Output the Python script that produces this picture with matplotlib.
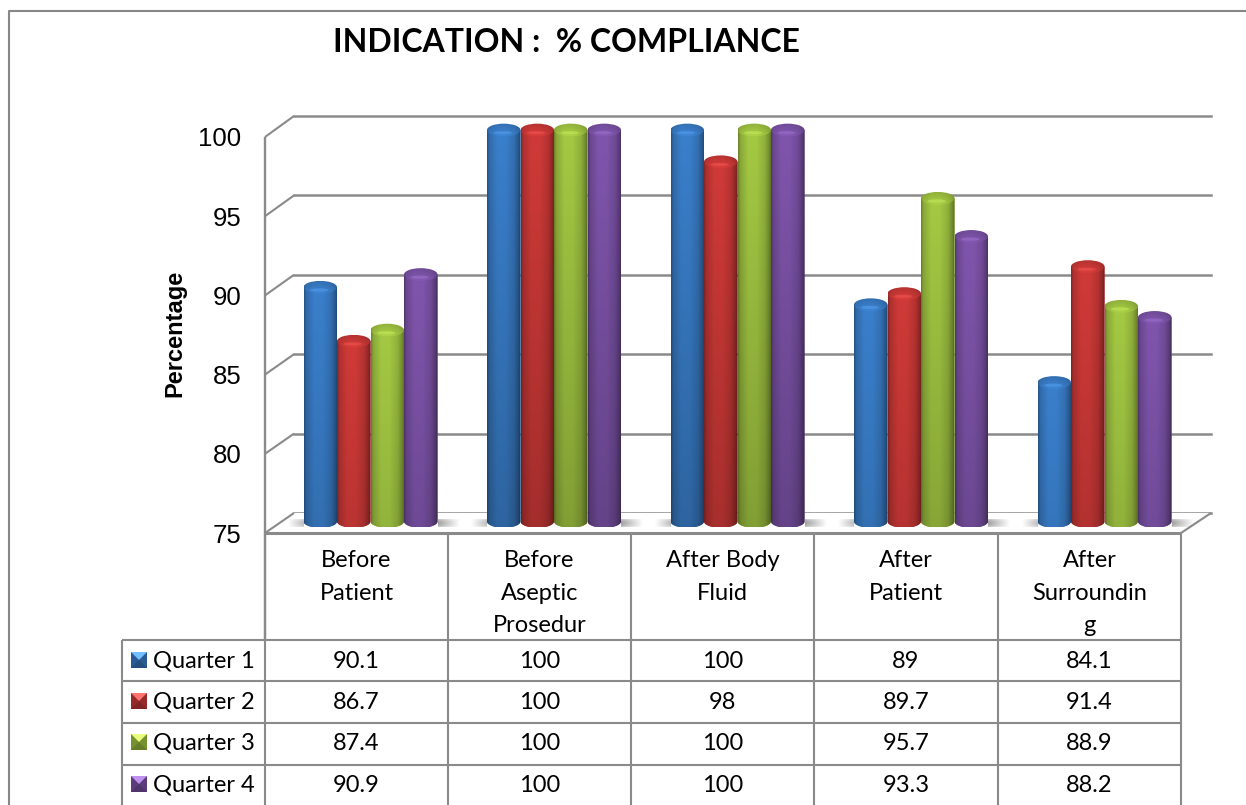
import numpy as np
import matplotlib
matplotlib.use("Agg")
import matplotlib.pyplot as plt
from matplotlib.patches import Ellipse, PathPatch, Polygon, Rectangle
from matplotlib.path import Path

title = "INDICATION :  % COMPLIANCE"
ylabel = "Percentage"
categories = ["Before\nPatient", "Before\nAseptic\nProsedur", "After Body\nFluid", "After\nPatient", "After\nSurroundin\ng"]
series_names = ["Quarter 1", "Quarter 2", "Quarter 3", "Quarter 4"]
q1 = [90.1, 100, 100, 89, 84.1]
q2 = [86.7, 100, 98, 89.7, 91.4]
q3 = [87.4, 100, 100, 95.7, 88.9]
q4 = [90.9, 100, 100, 93.3, 88.2]
series = [q1, q2, q3, q4]
y_ticks = [75, 80, 85, 90, 95, 100]
colors = ["#3A7FCB", "#CF3A38", "#A4C943", "#7F55AC"]

W, H = 1246, 805
GREY = "#8A8A8A"
LW = 1.5
TABLE_FONT = "Lato"
TICK_FONT = "Liberation Sans"

fig = plt.figure(figsize=(W / 100, H / 100), dpi=100, facecolor="white")


def px_axes(x0, x1, y_top, y_bottom, **kw):
    return fig.add_axes([x0 / W, 1 - y_bottom / H, (x1 - x0) / W, (y_bottom - y_top) / H], **kw)


# Back wall gridlines
ax_back = px_axes(294, 1211, 116, 513)
ax_back.set_xlim(0, 1)
ax_back.set_ylim(75, 100)
ax_back.set_yticks(y_ticks)
ax_back.set_xticks([])
ax_back.tick_params(left=False, labelleft=False)
ax_back.grid(axis="y", color=GREY, lw=LW + 0.3, clip_on=False)
ax_back.patch.set_visible(False)
for s in ax_back.spines.values():
    s.set_visible(False)

# Overlay in pixel units: frame, wall connectors, table
ax_px = fig.add_axes([0, 0, 1, 1], zorder=1)
ax_px.set_xlim(0, W)
ax_px.set_ylim(H, 0)
ax_px.axis("off")
ax_px.patch.set_visible(False)


def line(xs, ys, color=GREY, lw=LW):
    ax_px.plot(xs, ys, color=color, lw=lw, solid_capstyle="butt", clip_on=False)


line([9, 9, W], [H, 11, 11], color="#878787", lw=1.5)
front_y = [533 - (t - 75) * (396 / 25) for t in y_ticks]
back_y = [513 - (t - 75) * (397 / 25) for t in y_ticks]
for fy, by in zip(front_y, back_y):
    line([265, 294], [fy, by])
line([1181, 1211], [533, 513])
ax_px.add_patch(Polygon([(265, 533), (294, 513), (1211, 513), (1181, 533)], closed=True,
                        facecolor="white", edgecolor="none", zorder=0))

# Table
col_x = [265, 448, 631, 814, 998, 1181]
row_y = [640, 681, 723, 765]
line([265, 265], [137, 640], lw=LW + 0.2)
line([122, 1181], [640, 640])
for y in row_y[1:]:
    line([122, 1181], [y, y])
line([122, 122], [640, H])
for x in col_x:
    line([x, x], [533, H])
line([265, 1181], [533, 533], lw=LW + 0.7)

header_size = 17
for i, cat in enumerate(categories):
    cx = (col_x[i] + col_x[i + 1]) / 2
    for k, part in enumerate(cat.split("\n")):
        ax_px.text(cx, 560.5 + k * 32.5, part, ha="center", va="center", fontsize=header_size,
                   family=TABLE_FONT, color="black")
row_centers = [661, 702, 743, 785]
for name, vals, col, yc in zip(series_names, series, colors, row_centers):
    rgb = np.array(matplotlib.colors.to_rgb(col))
    x0, x1, y0, y1 = 131, 147, yc - 9, yc + 7
    xm, ym = (x0 + x1) / 2, (y0 + y1) / 2
    ax_px.add_patch(Rectangle((x0, y0), x1 - x0, y1 - y0, fc=rgb * 0.72, ec="none"))
    ax_px.add_patch(Polygon([(x0, y1), (x1, y1), (xm, ym)], fc=rgb * 0.62, ec="none"))
    ax_px.add_patch(Polygon([(x0, y0), (x1, y0), (xm, ym)], fc=np.clip(rgb * 1.1 + 0.2, 0, 1), ec="none"))
    ax_px.text(153, yc, name, ha="left", va="center", fontsize=header_size, family=TABLE_FONT, color="black")
    for i, v in enumerate(vals):
        ax_px.text((col_x[i] + col_x[i + 1]) / 2, yc, f"{v:g}", ha="center", va="center",
                   fontsize=header_size, family=TABLE_FONT, color="black")

ax_px.text(566, 43, title, ha="center", va="center", fontsize=23, fontweight="bold",
           family=TABLE_FONT, color="black")
ax_px.text(175, 333, ylabel, ha="center", va="center", rotation=90, fontsize=17,
           fontweight="bold", family=TICK_FONT, color="black")

# Front axes: y tick labels
ax_front = px_axes(265, 1181, 137, 533, zorder=2)
ax_front.set_xlim(0, 1)
ax_front.set_ylim(75, 100)
ax_front.set_xticks([])
ax_front.set_yticks(y_ticks)
ax_front.tick_params(axis="y", length=0, pad=17, labelsize=18.5, colors="black")
for lab in ax_front.get_yticklabels():
    lab.set_fontfamily(TICK_FONT)
ax_front.patch.set_visible(False)
for s in ax_front.spines.values():
    s.set_visible(False)

# Cylinders
ax_bar = px_axes(278.75, 1196.25, 130, 527, zorder=3)
ax_bar.patch.set_visible(False)
ax_bar.axis("off")
n_groups = len(categories)
bar_w = 33.5 / 183.5
cap_h = 0.4
lift = 0.35
x_pos = np.arange(n_groups)
profile_t = [0, 0.06, 0.3, 0.55, 0.8, 0.94, 1]
profile_v = [0.66, 0.84, 1.0, 1.0, 0.88, 0.68, 0.52]
cap_v = [0.8, 0.92, 1.0, 1.0, 0.94, 0.85, 0.76]


def body_path(x, v):
    th = np.linspace(np.pi, 2 * np.pi, 40)
    xs = x + bar_w / 2 * np.cos(th)
    ys = 75 + lift + cap_h * np.sin(th)
    pts = np.column_stack([np.r_[xs, x + bar_w / 2, x - bar_w / 2, xs[0]], np.r_[ys, v, v, ys[0]]])
    return Path(pts, closed=True)


for g in x_pos:
    left = g - 2 * bar_w
    right = g + 2 * bar_w
    for xa, xb, ramp, strength in [(right, right + 0.115, np.linspace(1, 0, 64), 0.6),
                                   (left - 0.085, left, np.linspace(0, 1, 64), 0.42)]:
        vert = np.sin(np.linspace(0.25, np.pi - 0.25, 16))[:, None] ** 0.4
        img = np.zeros((16, 64, 4))
        img[..., :3] = 0.38
        img[..., 3] = strength * vert * ramp[None, :]
        ax_bar.imshow(img, extent=[xa, xb, 75.0, 75.45], aspect="auto", interpolation="bilinear",
                      zorder=1, origin="lower")

for j, (vals, col) in enumerate(zip(series, colors)):
    rgb = np.array(matplotlib.colors.to_rgb(col))
    offs = (j - 1.5) * bar_w
    bars = ax_bar.bar(x_pos + offs, np.array(vals) - 75, bottom=75, width=bar_w, color=col,
                      linewidth=0, zorder=3 + j)
    for x, v, rect in zip(x_pos + offs, vals, bars):
        clip = PathPatch(body_path(x, v), transform=ax_bar.transData, fc="none", ec="none")
        ax_bar.add_patch(clip)
        rect.set_clip_path(clip)
        tt = np.linspace(0, 1, 48)
        hp = np.interp(tt, profile_t, profile_v)
        yy = np.linspace(75, v, 120)
        vf = 1 - 0.21 * (v - yy) / 25
        img = np.clip(rgb[None, None, :] * hp[None, :, None] * vf[:, None, None], 0, 1)
        im = ax_bar.imshow(img, extent=[x - bar_w / 2, x + bar_w / 2, 75, v], origin="lower",
                           aspect="auto", interpolation="bilinear", zorder=3 + j)
        im.set_clip_path(clip)
        # rounded cap, shaded like the body but softer
        cap = Ellipse((x, v), bar_w, 2 * cap_h, fc="none", ec="none", transform=ax_bar.transData)
        ax_bar.add_patch(cap)
        hc = np.interp(tt, profile_t, cap_v)
        vc = np.linspace(1.05, 0.88, 24)
        cap_img = np.clip(rgb[None, None, :] * hc[None, :, None] * vc[:, None, None], 0, 1)
        ci = ax_bar.imshow(cap_img, extent=[x - bar_w / 2, x + bar_w / 2, v - cap_h, v + cap_h],
                           origin="lower", aspect="auto", interpolation="bilinear", zorder=3 + j)
        ci.set_clip_path(cap)
        ci.set_clip_box(fig.bbox)
        ax_bar.add_patch(Ellipse((x - bar_w * 0.03, v - 0.17), bar_w * 0.55, 0.5 * cap_h,
                                 fc=np.clip(rgb * 1.05 + 0.1, 0, 1), ec="none", alpha=0.55,
                                 zorder=3 + j, clip_on=False))
ax_bar.set_xlim(-0.5, n_groups - 0.5)
ax_bar.set_ylim(75, 100)

fig.savefig("out.png", dpi=100, facecolor="white")
